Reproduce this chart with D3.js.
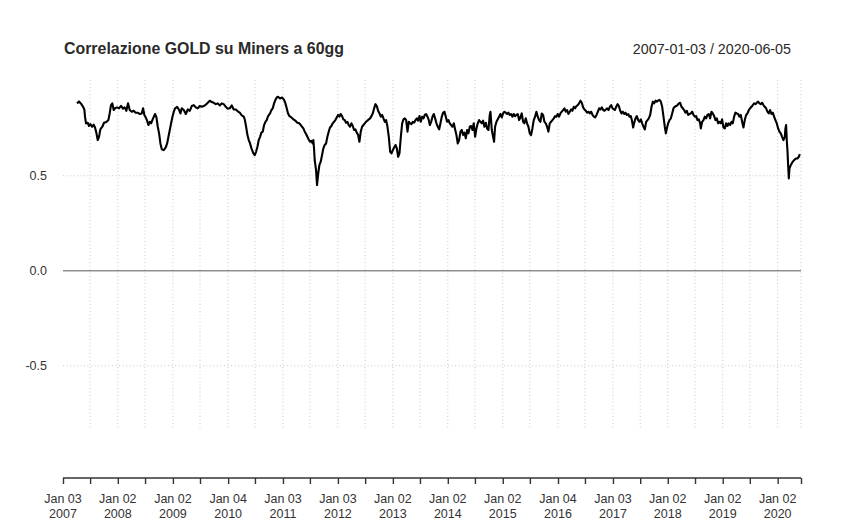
<!DOCTYPE html>
<html><head><meta charset="utf-8">
<script src="https://cdn.jsdelivr.net/npm/d3@7"></script>
<style>
html,body{margin:0;padding:0;background:#fff;}
svg{display:block;font-family:"Liberation Sans",Arial,Helvetica,sans-serif;}
</style></head>
<body><svg id="c" width="865" height="530"></svg>
<script>
// ---- data (decimal years, rolling 60-day correlation) ----
const years = [
2007.261,2007.297,2007.340,2007.370,2007.394,2007.406,2007.424,2007.455,2007.479,2007.503,2007.534,2007.564,2007.588,2007.612,2007.637,2007.661,2007.685,2007.721,2007.752,2007.794,2007.831,2007.855,2007.879,2007.903,2007.928,2007.952,2007.988,
2008.025,2008.061,2008.097,2008.128,2008.158,2008.188,2008.219,2008.255,2008.291,2008.328,2008.364,2008.401,2008.437,2008.461,2008.485,2008.510,2008.534,2008.558,2008.582,2008.607,2008.643,2008.679,2008.704,2008.728,2008.752,2008.776,2008.801,2008.837,2008.873,2008.898,2008.922,2008.946,2008.970,2008.995,
2009.019,2009.043,2009.080,2009.116,2009.140,2009.164,2009.201,2009.237,2009.274,2009.310,2009.346,2009.383,2009.419,2009.455,2009.492,2009.528,2009.565,2009.601,2009.637,2009.674,2009.710,2009.746,2009.783,2009.819,2009.856,2009.892,2009.928,2009.965,
2010.001,2010.037,2010.074,2010.110,2010.147,2010.183,2010.219,2010.256,2010.292,2010.310,2010.335,2010.359,2010.383,2010.407,2010.432,2010.468,2010.492,2010.516,2010.541,2010.565,2010.589,2010.613,2010.638,2010.662,2010.686,2010.710,2010.735,2010.771,2010.795,2010.820,2010.844,2010.868,2010.892,2010.917,2010.953,2010.989,
2011.026,2011.050,2011.074,2011.098,2011.123,2011.159,2011.195,2011.232,2011.268,2011.305,2011.341,2011.377,2011.402,2011.426,2011.450,2011.474,2011.499,2011.523,2011.547,2011.559,2011.571,2011.583,2011.608,2011.626,2011.644,2011.668,2011.693,2011.717,2011.741,2011.765,2011.790,2011.814,2011.838,2011.862,2011.887,2011.911,2011.935,2011.959,2011.984,
2012.008,2012.032,2012.056,2012.081,2012.105,2012.129,2012.153,2012.178,2012.202,2012.226,2012.250,2012.275,2012.299,2012.323,2012.347,2012.372,2012.396,2012.420,2012.444,2012.469,2012.493,2012.517,2012.541,2012.566,2012.590,2012.614,2012.638,2012.663,2012.687,2012.711,2012.735,2012.760,2012.784,2012.808,2012.832,2012.857,2012.881,2012.905,2012.929,2012.954,2012.978,
2013.002,2013.026,2013.051,2013.075,2013.099,2013.123,2013.148,2013.172,2013.196,2013.220,2013.245,2013.269,2013.293,2013.317,2013.342,2013.366,2013.390,2013.414,2013.439,2013.463,2013.487,2013.511,2013.536,2013.560,2013.584,2013.608,2013.633,2013.657,2013.675,2013.700,2013.724,2013.748,2013.772,2013.796,2013.821,2013.845,2013.869,2013.893,2013.918,2013.942,2013.966,2013.990,
2014.015,2014.039,2014.063,2014.087,2014.112,2014.136,2014.160,2014.184,2014.209,2014.233,2014.257,2014.281,2014.306,2014.330,2014.354,2014.378,2014.403,2014.427,2014.451,2014.475,2014.500,2014.524,2014.548,2014.572,2014.597,2014.621,2014.645,2014.669,2014.694,2014.718,2014.742,2014.766,2014.779,2014.803,2014.827,2014.845,2014.863,2014.888,2014.912,2014.936,2014.960,2014.985,
2015.009,2015.033,2015.057,2015.082,2015.106,2015.130,2015.154,2015.179,2015.203,2015.227,2015.251,2015.276,2015.300,2015.324,2015.348,2015.373,2015.397,2015.421,2015.445,2015.470,2015.494,2015.518,2015.542,2015.567,2015.591,2015.615,2015.640,2015.664,2015.688,2015.712,2015.737,2015.761,2015.785,2015.809,2015.834,2015.858,2015.882,2015.906,2015.931,2015.955,2015.979,
2016.003,2016.028,2016.052,2016.076,2016.100,2016.125,2016.149,2016.173,2016.197,2016.222,2016.246,2016.270,2016.294,2016.319,2016.343,2016.367,2016.391,2016.416,2016.440,2016.464,2016.488,2016.513,2016.537,2016.561,2016.585,2016.610,2016.634,2016.658,2016.682,2016.707,2016.731,2016.755,2016.779,2016.804,2016.828,2016.852,2016.876,2016.901,2016.925,2016.949,2016.973,2016.998,
2017.040,2017.064,2017.089,2017.113,2017.137,2017.161,2017.186,2017.210,2017.234,2017.258,2017.283,2017.307,2017.331,2017.355,2017.373,2017.392,2017.416,2017.440,2017.464,2017.489,2017.513,2017.537,2017.561,2017.586,2017.610,2017.634,2017.658,2017.683,2017.707,2017.731,2017.755,2017.780,2017.804,2017.828,2017.852,2017.877,2017.901,2017.925,2017.949,2017.968,2017.986,
2018.010,2018.034,2018.059,2018.083,2018.107,2018.131,2018.156,2018.180,2018.204,2018.228,2018.253,2018.277,2018.301,2018.325,2018.350,2018.374,2018.398,2018.422,2018.447,2018.471,2018.495,2018.519,2018.544,2018.568,2018.592,2018.604,2018.628,2018.653,2018.677,2018.701,2018.725,2018.750,2018.774,2018.798,2018.822,2018.847,2018.871,2018.895,2018.919,2018.944,2018.968,2018.992,
2019.016,2019.041,2019.065,2019.089,2019.113,2019.138,2019.162,2019.186,2019.210,2019.235,2019.259,2019.283,2019.307,2019.332,2019.356,2019.380,2019.404,2019.429,2019.453,2019.477,2019.501,2019.526,2019.550,2019.574,2019.598,2019.623,2019.647,2019.671,2019.695,2019.720,2019.744,2019.768,2019.792,2019.817,2019.841,2019.865,2019.889,2019.914,2019.938,2019.962,2019.986,
2020.011,2020.035,2020.059,2020.083,2020.108,2020.132,2020.144,2020.156,2020.168,2020.180,2020.193,2020.205,2020.217,2020.241,2020.265,2020.290,2020.314,2020.338,2020.362,2020.387,2020.405
];
const corr = [
0.881,0.891,0.877,0.863,0.849,0.811,0.776,0.779,0.762,0.772,0.758,0.769,0.754,0.727,0.688,0.705,0.744,0.758,0.779,0.783,0.793,0.828,0.872,0.881,0.846,0.855,0.860,
0.855,0.868,0.853,0.860,0.842,0.881,0.846,0.837,0.842,0.832,0.832,0.825,0.828,0.855,0.820,0.807,0.790,0.767,0.784,0.776,0.802,0.825,0.807,0.758,0.723,0.670,0.639,0.635,0.649,0.670,0.705,0.741,0.776,0.811,
0.837,0.855,0.863,0.846,0.828,0.855,0.846,0.825,0.849,0.842,0.867,0.872,0.860,0.855,0.867,0.863,0.867,0.874,0.884,0.895,0.888,0.884,0.877,0.881,0.870,0.881,0.877,0.863,
0.853,0.855,0.870,0.849,0.849,0.839,0.832,0.818,0.811,0.797,0.758,0.714,0.688,0.670,0.644,0.618,0.609,0.626,0.653,0.688,0.705,0.727,0.732,0.767,0.784,0.793,0.814,0.828,0.846,0.855,0.881,0.899,0.912,0.916,0.907,0.912,
0.899,0.881,0.855,0.828,0.814,0.807,0.797,0.790,0.779,0.776,0.762,0.749,0.732,0.720,0.705,0.691,0.679,0.684,0.670,0.688,0.644,0.583,0.530,0.451,0.504,0.556,0.574,0.609,0.644,0.662,0.670,0.705,0.732,0.754,0.762,0.776,0.784,0.793,0.807,
0.820,0.811,0.825,0.814,0.797,0.793,0.779,0.784,0.767,0.758,0.776,0.762,0.741,0.744,0.727,0.714,0.679,0.732,0.758,0.767,0.776,0.784,0.790,0.797,0.802,0.814,0.828,0.855,0.877,0.867,0.842,0.828,0.811,0.820,0.802,0.784,0.793,0.758,0.705,0.626,0.618,
0.635,0.649,0.662,0.644,0.600,0.618,0.705,0.776,0.797,0.802,0.793,0.732,0.784,0.776,0.772,0.784,0.779,0.793,0.802,0.790,0.814,0.784,0.811,0.802,0.820,0.825,0.811,0.793,0.767,0.784,0.811,0.825,0.802,0.776,0.758,0.744,0.776,0.811,0.832,0.837,0.811,0.784,
0.793,0.776,0.767,0.758,0.776,0.744,0.714,0.670,0.688,0.732,0.741,0.714,0.727,0.697,0.741,0.723,0.758,0.762,0.741,0.776,0.705,0.749,0.776,0.793,0.784,0.776,0.790,0.758,0.779,0.749,0.741,0.820,0.837,0.741,0.705,0.679,0.758,0.784,0.797,0.811,0.825,0.807,
0.828,0.837,0.832,0.825,0.832,0.820,0.825,0.811,0.825,0.814,0.820,0.825,0.793,0.807,0.828,0.784,0.776,0.802,0.776,0.758,0.723,0.714,0.749,0.793,0.811,0.837,0.811,0.793,0.784,0.828,0.820,0.784,0.776,0.758,0.732,0.776,0.784,0.793,0.802,0.814,0.811,
0.825,0.811,0.828,0.837,0.846,0.855,0.837,0.846,0.825,0.837,0.849,0.842,0.863,0.855,0.867,0.872,0.881,0.895,0.884,0.860,0.849,0.842,0.832,0.837,0.828,0.837,0.820,0.811,0.807,0.820,0.837,0.855,0.849,0.860,0.846,0.842,0.849,0.855,0.846,0.863,0.872,0.855,
0.846,0.863,0.877,0.867,0.842,0.828,0.837,0.825,0.832,0.820,0.825,0.811,0.814,0.784,0.754,0.779,0.802,0.814,0.793,0.784,0.797,0.776,0.758,0.744,0.784,0.793,0.802,0.820,0.863,0.890,0.881,0.895,0.890,0.895,0.899,0.890,0.863,0.811,0.758,0.723,0.749,
0.776,0.793,0.802,0.828,0.855,0.863,0.867,0.872,0.881,0.884,0.863,0.855,0.846,0.832,0.842,0.820,0.825,0.828,0.837,0.820,0.811,0.814,0.793,0.797,0.776,0.749,0.784,0.793,0.811,0.802,0.820,0.825,0.802,0.837,0.828,0.814,0.793,0.802,0.776,0.784,0.776,0.797,
0.754,0.749,0.776,0.762,0.776,0.767,0.784,0.776,0.811,0.832,0.828,0.825,0.811,0.820,0.784,0.754,0.793,0.820,0.828,0.846,0.855,0.863,0.872,0.881,0.877,0.884,0.890,0.881,0.877,0.884,0.872,0.863,0.855,0.837,0.828,0.846,0.825,0.832,0.811,0.793,0.776,
0.749,0.732,0.723,0.705,0.688,0.705,0.749,0.767,0.688,0.635,0.556,0.486,0.539,0.556,0.569,0.579,0.586,0.591,0.591,0.600,0.614
];
const majorTickDates = ["2007-01-03","2008-01-02","2009-01-02","2010-01-04","2011-01-03","2012-01-03","2013-01-02","2014-01-02","2015-01-02","2016-01-04","2017-01-03","2018-01-02","2019-01-02","2020-01-02"];
const minorTickDates = ["2007-07-02","2008-07-01","2009-07-01","2010-07-01","2011-07-01","2012-07-02","2013-07-01","2014-07-01","2015-07-01","2016-07-01","2017-07-03","2018-07-02","2019-07-01","2020-06-05"];
const yTicks = [-0.5, 0.0, 0.5];
const titleText = "Correlazione GOLD su Miners a 60gg";
const rangeText = "2007-01-03 / 2020-06-05";
const startDate = "2007-01-03", endDate = "2020-06-05";

// ---- helpers ----
const parse = d3.timeParse("%Y-%m-%d");
function decYearToDate(y){
  const yr = Math.floor(y);
  const s = new Date(yr,0,1).getTime(), e = new Date(yr+1,0,1).getTime();
  return new Date(s + (y-yr)*(e-s));
}
const data = years.map((y,i)=>({d:decYearToDate(y), v:corr[i]}));

const svg = d3.select("#c");
const L = 63, R = 801, T = 80, B = 430, AX = 478;
const x = d3.scaleTime().domain([parse(startDate), parse(endDate)]).range([L, R]);
const y = d3.scaleLinear().domain([-0.838, 1.004]).range([B, T]);

const gridCol = "#c9c9c9";
// vertical grid (all ticks except the first)
const allTicks = majorTickDates.concat(minorTickDates).map(parse).sort((a,b)=>a-b);
svg.append("g").selectAll("line").data(allTicks.slice(1)).join("line")
  .attr("x1", d=>x(d)).attr("x2", d=>x(d)).attr("y1", T).attr("y2", B)
  .attr("stroke", gridCol).attr("stroke-width", 1).attr("stroke-dasharray", "1,2.5");
// horizontal grid
svg.append("g").selectAll("line").data(yTicks.filter(v=>v!==0)).join("line")
  .attr("x1", L).attr("x2", R).attr("y1", d=>y(d)).attr("y2", d=>y(d))
  .attr("stroke", gridCol).attr("stroke-width", 1).attr("stroke-dasharray", "1,2.5");
// zero line
svg.append("line").attr("x1", L).attr("x2", R).attr("y1", y(0)).attr("y2", y(0))
  .attr("stroke", "#8f8f8f").attr("stroke-width", 1.3);

// y labels
svg.append("g").selectAll("text").data(yTicks).join("text")
  .attr("x", 47).attr("y", d=>y(d)).attr("dy", "0.36em")
  .attr("text-anchor", "end").attr("font-size", "12.5px").attr("fill", "#333")
  .text(d=>d3.format(".1f")(d).replace("−","-"));

// series line
svg.append("path").datum(data)
  .attr("d", d3.line().x(d=>x(d.d)).y(d=>y(d.v)))
  .attr("fill", "none").attr("stroke", "#000").attr("stroke-width", 2.1)
  .attr("stroke-linejoin", "round");

// x axis
const xAxis = d3.axisBottom(x).tickValues(allTicks).tickSize(6).tickFormat("");
const gx = svg.append("g").attr("transform", `translate(0,${AX})`).call(xAxis);
gx.select(".domain").attr("stroke", "#333").attr("stroke-width", 1.4).attr("d", `M${L},0H${R}`);
gx.selectAll(".tick line").attr("stroke", "#333").attr("stroke-width", 1.4);
const fmtMD = d3.timeFormat("%b %d"), fmtY = d3.timeFormat("%Y");
const lab = svg.append("g").selectAll("g").data(majorTickDates.map(parse)).join("g");
lab.append("text").attr("x", d=>x(d)).attr("y", 503).attr("text-anchor","middle")
  .attr("font-size","12.5px").attr("fill","#333").text(d=>fmtMD(d));
lab.append("text").attr("x", d=>x(d)).attr("y", 518).attr("text-anchor","middle")
  .attr("font-size","12.5px").attr("fill","#333").text(d=>fmtY(d));

// titles
svg.append("text").attr("x", 64).attr("y", 54).attr("font-size","15.9px").attr("font-weight","bold")
  .attr("fill","#2a2a2a").text(titleText);
svg.append("text").attr("x", 791).attr("y", 54).attr("text-anchor","end").attr("font-size","14.3px")
  .attr("fill","#2a2a2a").text(rangeText);
</script></body></html>
